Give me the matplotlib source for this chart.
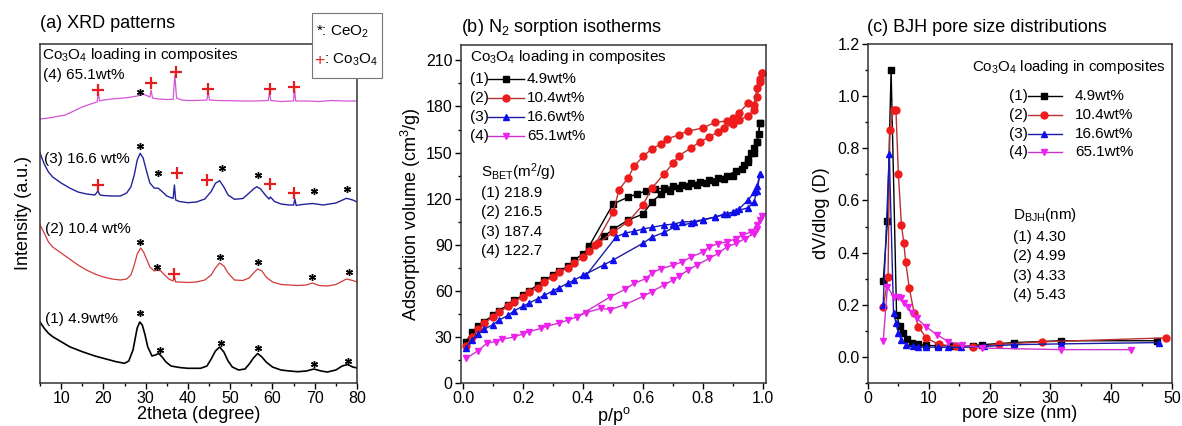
import matplotlib
matplotlib.use("Agg")
import matplotlib.pyplot as plt
from matplotlib.patches import Rectangle

plt.rcParams['font.family'] = ['Liberation Sans', 'DejaVu Sans']
plt.rcParams['mathtext.fontset'] = 'custom'
plt.rcParams['mathtext.rm'] = 'Liberation Sans'
plt.rcParams['mathtext.it'] = 'Liberation Sans:italic'
plt.rcParams['mathtext.bf'] = 'Liberation Sans:bold'

# ---------------- (a) XRD patterns (intensity in arbitrary units) ----------------
t1 = [5, 6, 7, 8, 10, 12, 15, 18, 20, 23, 25, 26, 27, 27.5, 28, 28.6, 29.2, 29.8, 30.5, 31.5,
      32.3, 33.1, 33.9, 34.8, 36, 38, 40, 43, 44.5, 45.5, 46.5, 47.5, 48.5, 49.5, 50.5, 52,
      53.5, 54.5, 55.5, 56.5, 57.5, 58.5, 60, 62, 64, 66, 68, 69.8, 71.5, 73, 75, 76.5, 77.8, 79, 80]
h1 = [61, 54.7, 49.7, 46.3, 41.3, 36.3, 31.3, 27, 24.7, 21.3, 19.7, 22, 33, 44, 55, 61, 58, 49, 36, 27,
      28, 29.5, 26, 21, 17, 15.5, 14.7, 14.7, 17, 24, 32, 36, 31, 22, 16, 13,
      14, 19, 25, 29.5, 26, 21, 16, 13, 12, 11.3, 12, 14, 12, 11, 13, 17, 18.5, 16, 15]

t2 = [5, 6, 7, 8, 10, 12, 14, 16, 18, 20, 22, 24, 25.5, 26.5, 27.3, 28, 28.8, 29.5, 30.2, 31,
      32, 32.8, 33.6, 34.5, 35.5, 36.5, 36.8, 37.1, 38, 40, 42, 44, 45.5, 46.5, 47.5, 48.5,
      49.5, 51, 53, 54.5, 55.5, 56.5, 57.5, 58.5, 60, 62, 64, 66, 68, 69.5, 71, 73, 75, 77.5, 79, 80]
h2 = [158, 150, 141, 136, 130, 124, 118, 113, 109, 106, 104, 103, 104, 108, 118, 129, 135, 131, 124, 116,
      112, 113, 112, 108, 104, 102, 106, 101, 101, 100.5, 101, 103, 108, 115, 120, 117,
      110, 103, 102.5, 105, 110, 114, 112, 106, 101, 98.5, 98, 97.5, 98, 100, 97.5, 97, 98.5, 104, 102.5, 101]

t3 = [5, 6, 7, 8, 10, 12, 14, 16, 18, 18.7, 19.2, 20, 22, 24, 25.5, 26.5, 27.3, 28, 28.7, 29.4,
      30.2, 31, 32, 33, 34, 35, 36.5, 36.8, 37.1, 38, 40, 42, 44, 45.5, 46.5, 47.5, 48.5, 49.5,
      51, 53, 54.5, 55.5, 56.3, 57.2, 58.3, 59.2, 59.5, 60.5, 62, 64, 65, 65.3, 65.6, 67, 69.5,
      72, 75, 77.5, 79, 80]
h3 = [230, 219, 211, 206, 200, 195, 191, 189, 188, 192, 188, 187.5, 187, 187, 190, 196, 208, 223, 229.7, 225,
      212, 200, 195, 194.7, 191, 187, 184.5, 198, 183, 181.5, 180.3, 181, 184, 191.5, 199.7, 202.3, 196, 188,
      183.7, 184.5, 190, 194, 196.3, 194, 188, 184, 186, 181.5, 179, 178, 178, 184, 177.5, 178.5, 179.5,
      178, 180, 184.7, 183, 181]

t4 = [5, 7, 9, 11, 13, 15, 17, 18.5, 18.8, 19.1, 20, 22, 24, 26, 28, 29.5, 30.5, 31, 31.3, 31.6,
      33, 35, 36.5, 36.9, 37.3, 38.5, 40, 42, 44.5, 44.8, 45.1, 47, 50, 53, 56, 59, 59.3, 59.6,
      62, 65, 65.2, 65.5, 68, 71, 74, 77, 80]
h4 = [264, 265, 266.5, 268, 272, 276, 279, 281, 289.7, 282, 283, 284, 284.7, 285.5, 287, 288.7, 287, 286, 293, 285,
      284, 283.5, 283.7, 308, 285, 283, 282.5, 282.5, 283, 291.3, 283, 282.5, 282.3, 282, 282, 282.5, 291, 282.5,
      281.5, 282, 295, 282, 282, 281.5, 282.5, 282, 282]

# peak labels: * CeO2, + Co3O4
star_x = [28.7, 33.3, 47.9, 56.6, 69.9, 77.9,
          28.7, 32.7, 47.6, 56.6, 69.3, 78.2,
          28.7, 33.0, 48.0, 56.6, 69.8, 77.6,
          28.7]
star_y = [70, 33, 40.3, 34.7, 19, 22,
          141.3, 116.3, 126.3, 121.3, 106.3, 111.3,
          237, 209.7, 215.3, 208, 192.3, 193.7,
          291.3]
plus_x = [36.7,
          18.8, 37.3, 44.6, 59.4, 65.2,
          18.8, 31.2, 37.2, 44.8, 59.3, 65.2]
plus_y = [109,
          198, 209.7, 203, 199, 190.3,
          293, 300.3, 311.3, 293.7, 293.7, 296.3]

# ---------------- (b) N2 sorption isotherms ----------------
ads1_p = [0.01, 0.03, 0.05, 0.07, 0.10, 0.12, 0.15, 0.17, 0.20, 0.22, 0.25, 0.27, 0.30, 0.32, 0.35, 0.37,
          0.40, 0.42, 0.47, 0.50, 0.55, 0.60, 0.63, 0.66, 0.69, 0.72, 0.75, 0.78, 0.81, 0.84, 0.87, 0.90,
          0.93, 0.95, 0.97, 0.98, 0.99]
ads1_v = [27, 33, 37, 40, 44, 47, 51, 54, 57, 60, 64, 67, 70, 73, 76, 80,
          84, 88, 95.5, 100, 106, 110, 118, 123, 125, 127, 128, 129, 130, 131, 133, 135,
          139, 144, 150, 157, 169]
des1_p = [0.99, 0.985, 0.98, 0.97, 0.96, 0.95, 0.935, 0.91, 0.88, 0.85, 0.82, 0.79, 0.76, 0.73, 0.70, 0.67,
          0.64, 0.61, 0.58, 0.55, 0.50, 0.42]
des1_v = [169, 162, 157, 153, 150, 146, 142, 138, 135, 133.5, 132, 131, 130, 129, 128, 127,
          126, 125, 123, 121, 116.5, 89]

ads2_p = [0.01, 0.03, 0.05, 0.07, 0.10, 0.12, 0.15, 0.17, 0.20, 0.22, 0.25, 0.27, 0.30, 0.32, 0.35, 0.37,
          0.40, 0.42, 0.45, 0.50, 0.55, 0.60, 0.63, 0.67, 0.70, 0.72, 0.76, 0.79, 0.82, 0.85, 0.87, 0.90,
          0.92, 0.95, 0.97, 0.98, 0.99, 0.995]
ads2_v = [24, 30, 35, 39, 43, 46, 50, 53, 56, 59, 62, 66, 69, 72, 75, 78,
          82, 86, 91, 98, 105, 116, 127, 136, 143, 148, 153, 157, 160, 163.5, 166, 168.5,
          171, 174, 177.5, 186, 196, 202]
des2_p = [0.995, 0.99, 0.98, 0.97, 0.95, 0.92, 0.90, 0.88, 0.84, 0.80, 0.75, 0.72, 0.68, 0.66, 0.63, 0.60,
          0.57, 0.55, 0.52, 0.50, 0.44]
des2_v = [202, 198, 192, 181, 182, 176, 172.5, 170.5, 169.7, 166, 164, 161.6, 158.8, 155.6, 152.5, 147.5,
          141, 133.5, 125.8, 111, 90]

ads3_p = [0.01, 0.03, 0.05, 0.07, 0.10, 0.12, 0.15, 0.17, 0.20, 0.22, 0.25, 0.27, 0.30, 0.32, 0.35, 0.37,
          0.40, 0.47, 0.50, 0.60, 0.63, 0.67, 0.71, 0.76, 0.80, 0.84, 0.88, 0.91, 0.95, 0.97, 0.98, 0.99]
ads3_v = [23, 28, 32, 35, 38, 41, 44, 47, 50, 52, 55, 57, 60, 62, 65, 67,
          70, 77, 80, 91, 95, 98, 102, 104, 106, 108, 110, 112, 114, 118, 125, 136]
des3_p = [0.99, 0.98, 0.97, 0.95, 0.92, 0.90, 0.87, 0.84, 0.80, 0.77, 0.73, 0.70, 0.67, 0.63, 0.60, 0.57,
          0.54, 0.51, 0.41]
des3_v = [136, 128, 124, 119, 113.3, 111, 110, 108, 106.4, 105.1, 104.8, 103.4, 102.8, 101.3, 100.3, 98.7,
          97.6, 95, 70]

ads4_p = [0.01, 0.05, 0.08, 0.11, 0.13, 0.17, 0.20, 0.22, 0.26, 0.28, 0.32, 0.35, 0.38, 0.41, 0.46, 0.49,
          0.54, 0.60, 0.63, 0.67, 0.70, 0.72, 0.75, 0.78, 0.82, 0.85, 0.88, 0.91, 0.94, 0.97, 0.98, 0.99]
ads4_v = [16, 21, 26, 27, 28.5, 30, 32, 33.5, 35.5, 37, 39, 41, 43, 45.8, 48.6, 47.7,
          51, 56.4, 59.5, 63.9, 67, 69.6, 73.5, 76.8, 81.1, 84.3, 88.7, 90.8, 94, 97.3, 100.5, 106]
des4_p = [0.995, 0.98, 0.96, 0.93, 0.91, 0.88, 0.85, 0.82, 0.80, 0.76, 0.73, 0.70, 0.66, 0.63, 0.61, 0.57,
          0.54, 0.49, 0.38]
des4_v = [109, 102.7, 98.3, 96.2, 94, 91.8, 90.7, 88.5, 85.3, 82, 78.8, 76.6, 74.5, 71.7, 68, 64.8,
          61, 56, 43]

sbet = ['(1) 218.9', '(2) 216.5', '(3) 187.4', '(4) 122.7']

# ---------------- (c) BJH pore size distributions ----------------
psd1_x = [2.5, 3.2, 3.8, 4.7, 5.2, 5.7, 6.4, 7.2, 8.2, 9.6, 11.5, 14.0, 17.3, 18.8, 24.0, 31.7, 47.5]
psd1_y = [0.29, 0.52, 1.10, 0.16, 0.12, 0.09, 0.07, 0.055, 0.048, 0.044, 0.043, 0.043, 0.043, 0.047, 0.055,
          0.062, 0.062]
psd2_x = [2.5, 3.3, 3.6, 4.2, 4.6, 5.0, 5.5, 5.9, 6.2, 6.8, 7.6, 8.3, 9.6, 11.7, 14.5, 17.3, 21.5, 28.6, 49.0]
psd2_y = [0.19, 0.305, 0.87, 0.945, 0.945, 0.70, 0.505, 0.435, 0.363, 0.263, 0.167, 0.115, 0.072, 0.048,
          0.04, 0.038, 0.048, 0.058, 0.073]
psd3_x = [2.5, 3.5, 4.2, 4.6, 5.0, 5.5, 6.3, 7.4, 8.3, 9.6, 11.5, 13.2, 15.3, 19.0, 24.0, 31.7, 47.8]
psd3_y = [0.20, 0.78, 0.17, 0.13, 0.09, 0.065, 0.047, 0.041, 0.039, 0.038, 0.037, 0.037, 0.037, 0.04, 0.047,
          0.05, 0.055]
psd4_x = [2.5, 3.2, 4.2, 4.9, 5.4, 6.0, 6.6, 7.3, 8.0, 9.6, 11.4, 13.2, 15.4, 18.8, 31.8, 43.2]
psd4_y = [0.06, 0.27, 0.23, 0.23, 0.225, 0.205, 0.19, 0.167, 0.148, 0.115, 0.084, 0.059, 0.046, 0.034,
          0.028, 0.028]

dbjh = ['(1) 4.30', '(2) 4.99', '(3) 4.33', '(4) 5.43']
loadings = ['4.9wt%', '10.4wt%', '16.6wt%', '65.1wt%']

line_cols = ['black', '#b83232', '#1c1caa', '#cc33cc']
mark_cols = ['black', '#ee1c1c', '#0f0fee', '#ee22ee']
markers = ['s', 'o', '^', 'v']
msizes = [4.2, 5, 4.6, 5]

FS = 11       # annotation text
TFS = 11.5    # tick labels
LFS = 13      # axis labels / titles

W, H = 1182, 426
fig = plt.figure(figsize=(W / 100, H / 100), dpi=100)


def axes_px(l, t, r, b):
    return fig.add_axes([l / W, 1 - b / H, (r - l) / W, (b - t) / H])


def style(ax):
    for s in ax.spines.values():
        s.set_linewidth(1.1)
        s.set_color('#333333')
    ax.tick_params(which='major', direction='out', length=4.5, width=1, labelsize=TFS, pad=1.5)
    ax.tick_params(which='minor', direction='out', length=2.5, width=1)
    ax.tick_params(top=False, right=False)


co3o4 = 'Co$_\\mathregular{3}$O$_\\mathregular{4}$'

# ---- panel (a)
axa = axes_px(40, 44, 357, 383)
style(axa)
axa.plot(t1, h1, color='black', lw=1.2)
axa.plot(t2, h2, color='#d23a3a', lw=0.9)
axa.plot(t3, h3, color='#22229a', lw=1.0)
axa.plot(t4, h4, color='#d455d4', lw=0.9)
axa.plot(star_x, star_y, ls='none', marker=(6, 2, 0), ms=5, mew=1, color='black')
axa.plot(plus_x, plus_y, ls='none', marker='+', ms=9, mew=1.6, color='#e41e1e')
axa.set_xlim(5, 80)
axa.set_ylim(0, 339)
axa.set_xticks(range(10, 81, 10))
axa.set_xticks(range(5, 81, 5), minor=True)
axa.set_yticks([])
axa.set_xlabel('2theta (degree)', fontsize=LFS, labelpad=0)
axa.set_ylabel('Intensity (a.u.)', fontsize=LFS, labelpad=6)
axa.text(0.006, 0.967, co3o4 + ' loading in composites', transform=axa.transAxes, fontsize=FS, va='center')
axa.text(0.010, 0.909, '(4) 65.1wt%', transform=axa.transAxes, fontsize=FS, va='center')
axa.text(0.012, 0.660, '(3) 16.6 wt%', transform=axa.transAxes, fontsize=FS, va='center')
axa.text(0.016, 0.454, '(2) 10.4 wt%', transform=axa.transAxes, fontsize=FS, va='center')
axa.text(0.016, 0.189, '(1) 4.9wt%', transform=axa.transAxes, fontsize=FS, va='center')

# key box of panel (a)
fig.add_artist(Rectangle((312 / W, 1 - 78 / H), 70 / W, 65 / H, transform=fig.transFigure,
                         fc='white', ec='#777777', lw=0.8, zorder=5))
fig.text(316 / W, 1 - 32 / H, '*: CeO$_\\mathregular{2}$', fontsize=FS, va='center', zorder=6)
fig.text(314 / W, 1 - 61 / H, '+', fontsize=12.5, color='#e41e1e', va='center', zorder=6)
fig.text(324 / W, 1 - 60 / H, ': ' + co3o4, fontsize=FS, va='center', zorder=6)

# ---- panel (b)
axb = axes_px(461, 45, 766, 383)
style(axb)
iso = [(ads1_p, ads1_v, des1_p, des1_v), (ads2_p, ads2_v, des2_p, des2_v),
       (ads3_p, ads3_v, des3_p, des3_v), (ads4_p, ads4_v, des4_p, des4_v)]
for i, (ap, av, dp, dv) in enumerate(iso):
    for xs, ys in ((ap, av), (dp, dv)):
        axb.plot(xs, ys, color=line_cols[i], lw=1, marker=markers[i], ms=msizes[i],
                 mfc=mark_cols[i], mec=mark_cols[i])
axb.set_xlim(-0.007, 1.01)
axb.set_ylim(0, 220)
axb.set_xticks([0, 0.2, 0.4, 0.6, 0.8, 1.0])
axb.set_xticks([0.1, 0.3, 0.5, 0.7, 0.9], minor=True)
axb.set_yticks(range(0, 211, 30))
axb.set_yticks(range(15, 220, 30), minor=True)
axb.set_xlabel('p/p$^\\mathregular{o}$', fontsize=LFS, labelpad=-1)
axb.set_ylabel('Adsorption volume (cm$^\\mathregular{3}$/g)', fontsize=LFS, labelpad=2)
axb.text(0.0295, 0.964, co3o4 + ' loading in composites', transform=axb.transAxes, fontsize=FS,
         va='center')
rows_b = [0.899, 0.843, 0.787, 0.731]
for i in range(4):
    axb.text(0.0295, rows_b[i], '(%d)' % (i + 1), transform=axb.transAxes, fontsize=FS, va='center')
    axb.plot([0.09, 0.148, 0.207], [rows_b[i]] * 3, transform=axb.transAxes, color=line_cols[i], lw=1,
             marker=markers[i], ms=msizes[i], mfc=mark_cols[i], mec=mark_cols[i], markevery=[1])
    axb.text(0.216, rows_b[i], loadings[i], transform=axb.transAxes, fontsize=FS, va='center')
axb.text(0.0656, 0.624, 'S$_\\mathregular{BET}$(m$^\\mathregular{2}$/g)', transform=axb.transAxes,
         fontsize=FS, va='center')
for i, s in enumerate(sbet):
    axb.text(0.0656, 0.562 - i * 0.0575, s, transform=axb.transAxes, fontsize=FS, va='center')

# ---- panel (c)
axc = axes_px(868, 44, 1172, 383)
style(axc)
psd = [(psd1_x, psd1_y), (psd2_x, psd2_y), (psd3_x, psd3_y), (psd4_x, psd4_y)]
for i, (xs, ys) in enumerate(psd):
    axc.plot(xs, ys, color=line_cols[i], lw=1, marker=markers[i], ms=msizes[i],
             mfc=mark_cols[i], mec=mark_cols[i])
axc.set_xlim(0, 50)
axc.set_ylim(-0.1, 1.2)
axc.set_xticks(range(0, 51, 10))
axc.set_xticks(range(5, 50, 10), minor=True)
axc.set_yticks([0, 0.2, 0.4, 0.6, 0.8, 1.0, 1.2])
axc.set_yticks([-0.1, 0.1, 0.3, 0.5, 0.7, 0.9, 1.1], minor=True)
axc.set_yticklabels(['0.0', '0.2', '0.4', '0.6', '0.8', '1.0', '1.2'])
axc.set_xlabel('pore size (nm)', fontsize=LFS, labelpad=-1)
axc.set_ylabel('dV/dlog (D)', fontsize=LFS, labelpad=5)
axc.text(0.343, 0.933, co3o4 + ' loading in composites', transform=axc.transAxes, fontsize=10.8,
         va='center')
rows_c = [0.847, 0.791, 0.735, 0.681]
for i in range(4):
    axc.text(0.464, rows_c[i], '(%d)' % (i + 1), transform=axc.transAxes, fontsize=FS, va='center')
    axc.plot([0.526, 0.58, 0.638], [rows_c[i]] * 3, transform=axc.transAxes, color=line_cols[i], lw=1,
             marker=markers[i], ms=msizes[i], mfc=mark_cols[i], mec=mark_cols[i], markevery=[1])
    axc.text(0.681, rows_c[i], loadings[i], transform=axc.transAxes, fontsize=FS, va='center')
axc.text(0.476, 0.496, 'D$_\\mathregular{BJH}$(nm)', transform=axc.transAxes, fontsize=FS, va='center')
for i, s in enumerate(dbjh):
    axc.text(0.476, 0.43 - i * 0.0565, s, transform=axc.transAxes, fontsize=FS, va='center')

# panel titles
fig.text(40 / W, 1 - 23 / H, '(a) XRD patterns', fontsize=LFS, va='center')
fig.text(461 / W, 1 - 28 / H, '(b) N$_\\mathregular{2}$ sorption isotherms', fontsize=LFS, va='center')
fig.text(867 / W, 1 - 27 / H, '(c) BJH pore size distributions', fontsize=LFS, va='center')

fig.savefig('out.png', dpi=100)
